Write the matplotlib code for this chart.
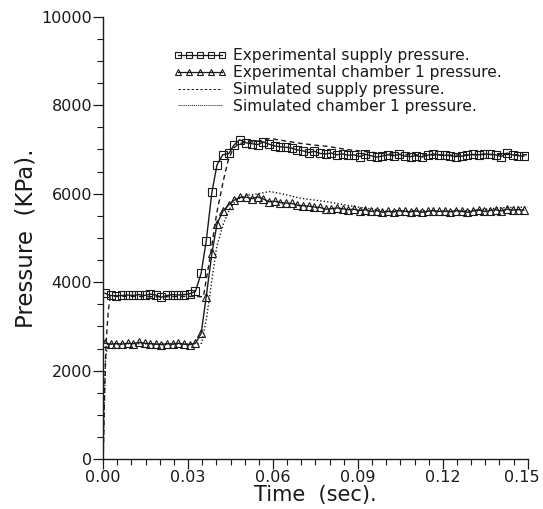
import matplotlib
matplotlib.use("Agg")
import matplotlib.pyplot as plt
import matplotlib.transforms as mtransforms
from matplotlib.lines import Line2D
from matplotlib.ticker import MultipleLocator

# ---- data -------------------------------------------------------------
t_exp = [0.0006, 0.0026, 0.0046, 0.0066, 0.0086, 0.0106, 0.0126, 0.0146, 0.0166, 0.0186,
         0.0206, 0.0226, 0.0246, 0.0266, 0.0286, 0.0306, 0.0326, 0.0346, 0.0364, 0.0384,
         0.0402, 0.0422, 0.0444, 0.0462, 0.0482, 0.0506, 0.0526, 0.0546, 0.0566, 0.0586,
         0.0606, 0.0626, 0.0646, 0.0666, 0.0686, 0.0706, 0.0726, 0.0746, 0.0766, 0.0786,
         0.0806, 0.0826, 0.0846, 0.0866, 0.0886, 0.0906, 0.0926, 0.0946, 0.0966, 0.0986,
         0.1006, 0.1026, 0.1046, 0.1066, 0.1086, 0.1106, 0.1126, 0.1146, 0.1166, 0.1186,
         0.1206, 0.1226, 0.1246, 0.1266, 0.1286, 0.1306, 0.1326, 0.1346, 0.1366, 0.1386,
         0.1406, 0.1426, 0.1446, 0.1466, 0.1486]

exp_supply = [3750, 3700, 3690, 3700, 3710, 3700, 3720, 3700, 3730, 3710,
              3660, 3700, 3720, 3710, 3720, 3740, 3790, 4200, 4930, 6030,
              6650, 6880, 6910, 7100, 7220, 7150, 7130, 7110, 7170, 7120,
              7080, 7060, 7050, 7030, 6990, 6970, 6930, 6960, 6910, 6900,
              6920, 6880, 6900, 6870, 6880, 6840, 6890, 6860, 6830, 6850,
              6880, 6860, 6890, 6850, 6840, 6860, 6830, 6870, 6900, 6880,
              6870, 6860, 6840, 6850, 6870, 6890, 6880, 6900, 6890, 6880,
              6840, 6920, 6880, 6860, 6850]

exp_chamber = [2620, 2600, 2610, 2600, 2620, 2610, 2640, 2620, 2610, 2600,
               2590, 2610, 2600, 2620, 2600, 2590, 2620, 2840, 3670, 4650,
               5310, 5600, 5750, 5850, 5920, 5920, 5890, 5930, 5880, 5820,
               5830, 5800, 5790, 5780, 5740, 5730, 5720, 5700, 5690, 5650,
               5660, 5680, 5660, 5640, 5650, 5620, 5640, 5600, 5620, 5580,
               5600, 5590, 5620, 5600, 5590, 5610, 5580, 5600, 5620, 5600,
               5610, 5590, 5620, 5600, 5580, 5610, 5630, 5600, 5620, 5640,
               5610, 5650, 5630, 5640, 5630]

t_sim_supply = [0.0, 0.0005, 0.001, 0.0018, 0.0025, 0.01, 0.02, 0.03, 0.0354, 0.0378,
                0.0401, 0.0425, 0.0442, 0.046, 0.048, 0.050, 0.054, 0.059, 0.0645, 0.0695,
                0.0745, 0.0794, 0.086, 0.093, 0.10, 0.11, 0.12, 0.13, 0.14, 0.15]
sim_supply = [0, 1500, 2600, 3350, 3680, 3680, 3670, 3680, 3670, 4580,
              5560, 6310, 6760, 7030, 7130, 7160, 7180, 7250, 7190, 7140,
              7100, 7070, 7000, 6950, 6900, 6880, 6870, 6880, 6890, 6880]

t_sim_chamber = [0.0, 0.0004, 0.0008, 0.0015, 0.01, 0.02, 0.03, 0.0348, 0.0366, 0.0384,
                 0.0401, 0.0425, 0.0448, 0.047, 0.050, 0.054, 0.059, 0.0645, 0.0695, 0.079,
                 0.086, 0.093, 0.10, 0.11, 0.12, 0.13, 0.14, 0.15]
sim_chamber = [0, 1200, 2200, 2600, 2610, 2600, 2600, 2620, 3220, 4050,
               4800, 5330, 5670, 5850, 5960, 5990, 6050, 5980, 5900, 5820,
               5740, 5670, 5610, 5620, 5600, 5620, 5680, 5700]

x_ticks = [0.00, 0.03, 0.06, 0.09, 0.12, 0.15]
x_tick_labels = ["0.00", "0.03", "0.06", "0.09", "0.12", "0.15"]

labels = ["Experimental supply pressure.",
          "Experimental chamber 1 pressure.",
          "Simulated supply pressure.",
          "Simulated chamber 1 pressure."]

# ---- figure -----------------------------------------------------------
ink = "#1a1a1a"
plt.rcParams["font.family"] = ["DejaVu Sans"]
fig = plt.figure(figsize=(5.43, 5.09), dpi=100)
ax = fig.add_axes([0.19, 0.098, 0.782, 0.869])

ax.plot(t_exp, exp_supply, color=ink, lw=1.0, marker="s", ms=5.4, mfc="none",
        mec=ink, mew=0.8)
ax.plot(t_exp, exp_chamber, color=ink, lw=1.0, marker="^", ms=5.6, mfc="none",
        mec=ink, mew=0.8)
ax.plot(t_sim_supply, sim_supply, color=ink, lw=1.0, ls=(0, (3.5, 2.5)))
ax.plot(t_sim_chamber, sim_chamber, color=ink, lw=1.0, ls=(0, (1, 1.5)))

ax.set_xlim(0, 0.15)
ax.set_ylim(0, 10000)
ax.set_xticks(x_ticks, x_tick_labels)
ax.xaxis.set_minor_locator(MultipleLocator(0.005))
ax.yaxis.set_major_locator(MultipleLocator(2000))
ax.yaxis.set_minor_locator(MultipleLocator(500))

for s in ("top", "right"):
    ax.spines[s].set_visible(False)
for s in ("left", "bottom"):
    ax.spines[s].set_color(ink)
    ax.spines[s].set_linewidth(1.0)

ax.tick_params(which="major", direction="out", length=7, width=0.9, colors=ink,
               labelsize=11.5, pad=1)
ax.tick_params(which="minor", direction="out", length=4.5, width=0.8, colors=ink)

ax.set_xlabel("Time  (sec).", fontsize=15, color=ink, labelpad=0)
ax.set_ylabel("Pressure  (KPa).", fontsize=16.5, color=ink, labelpad=3)

handles = [
    Line2D([], [], color=ink, lw=0.9, marker="s", ms=3.8, mfc="none", mec=ink, mew=0.8),
    Line2D([], [], color=ink, lw=0.9, marker="^", ms=4.0, mfc="none", mec=ink, mew=0.8),
    Line2D([], [], color=ink, lw=0.7, ls=(0, (2.5, 2))),
    Line2D([], [], color=ink, lw=0.7, ls=(0, (1, 1))),
]
leg = ax.legend(handles, labels, loc="upper left", bbox_to_anchor=(0.151, 0.943),
                frameon=False, numpoints=5, handlelength=3.4, handletextpad=0.4,
                labelspacing=0.12, fontsize=11.2, borderaxespad=0)
for txt in leg.get_texts():
    txt.set_color(ink)

# keep the last x tick label inside the figure, as in the reference
fig.canvas.draw()
last = ax.xaxis.get_major_ticks()[-1].label1
last.set_transform(last.get_transform() +
                   mtransforms.ScaledTranslation(-6 / 100, 0, fig.dpi_scale_trans))

fig.savefig("out.png", dpi=100)
